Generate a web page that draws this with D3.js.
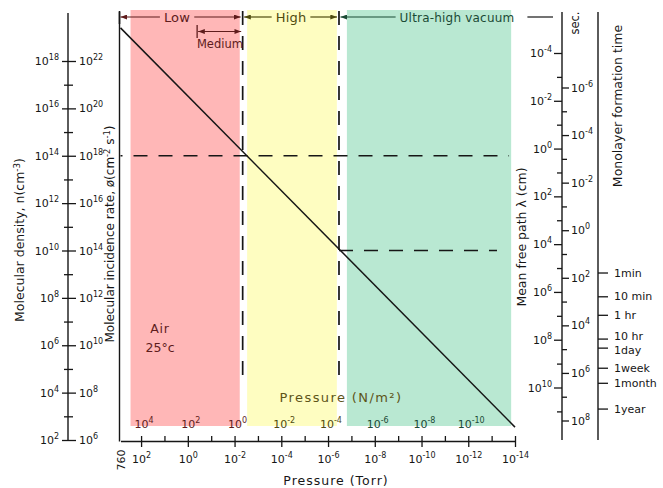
<!DOCTYPE html>
<html>
<head>
<meta charset="utf-8">
<script src="https://cdn.jsdelivr.net/npm/d3@7"></script>
<style>
html,body{margin:0;padding:0;background:#fff;}
svg{display:block;}
</style>
</head>
<body>
<svg id="chart" width="663" height="488"></svg>
<script>
// ---------------- data ----------------
const torrStart = 760;
const torrMajor = [1e2,1e0,1e-2,1e-4,1e-6,1e-8,1e-10,1e-12,1e-14];
const torrMajorExp = ["2","0","-2","-4","-6","-8","-10","-12","-14"];
const torrMinor = [1e1,1e-1,1e-3,1e-5,1e-7,1e-9,1e-11,1e-13];
const paTicks = [1e4,1e2,1e0,1e-2,1e-4,1e-6,1e-8,1e-10];
const paExp = ["4","2","0","-2","-4","-6","-8","-10"];
const torrPerPa = 0.0075;
const densityMajor = [1e2,1e4,1e6,1e8,1e10,1e12,1e14,1e16,1e18];
const densityExp = ["2","4","6","8","10","12","14","16","18"];
const densityMinor = [1e3,1e5,1e7,1e9,1e11,1e13,1e15,1e17];
const incidenceMajor = [1e6,1e8,1e10,1e12,1e14,1e16,1e18,1e20,1e22];
const incidenceExp = ["6","8","10","12","14","16","18","20","22"];
const lambdaMajor = [1e-4,1e-2,1e0,1e2,1e4,1e6,1e8,1e10];
const lambdaExp = ["-4","-2","0","2","4","6","8","10"];
const lambdaMinor = [1e-3,1e-1,1e1,1e3,1e5,1e7,1e9,1e11];
const timeMajor = [1e-6,1e-4,1e-2,1e0,1e2,1e4,1e6,1e8];
const timeExp = ["-6","-4","-2","0","2","4","6","8"];
const timeMinor = [1e-5,1e-3,1e-1,1e1,1e3,1e5,1e7];
const monoLabels = ["1min","10 min","1 hr","10 hr","1day","1week","1month","1year"];
const monoSeconds = [60,600,3600,36000,86400,604800,2.6e6,3.15e7];
const lineTorr = [760,1e-14];
const lineDensity = [2.5e19,3.5e2];
const regionNames = ["Low","High","Ultra-high vacuum"];
const regionFromTorr = [283,2.9e-3,1.56e-7];
const regionToTorr = [6.0e-3,4.2e-7,1.46e-14];
const boundaryTorr = [4.5e-3,3.4e-7];
const mediumTorr = [0.4,4.5e-3];
const dashDensity = [1e14,1e10];
const dashFromTorr = [760,3.4e-7];
const dashToTorr = [1.8e-14,5.9e-14];

// ---------------- style ----------------
const FONT = "DejaVu Sans";
const INK = "#161616";
const regionFill = ["#ffb7b7","#fefdc1","#b9e8d2"];
const regionInk = ["#5e1c1c","#4f4b10","#1b4a35"];

const svg = d3.select("#chart").attr("font-family", FONT);

// ---------------- scales ----------------
const x = d3.scaleLog().domain([torrStart,1e-14]).range([120.5,515]);
const yN = d3.scaleLog().domain([1e2,1e18]).range([440,61]);
const yPhi = d3.scaleLog().domain([1e6,1e22]).range([440,61]);
const yL = d3.scaleLog().domain([1e-4,1e10]).range([53,387.5]);
const yT = d3.scaleLog().domain([1e-6,1e8]).range([87.5,420.5]);

const plotTop = 10, plotBottom = 426;

// ---------------- regions ----------------
svg.append("g").selectAll("rect").data(regionNames).join("rect")
  .attr("x",(d,i)=>x(regionFromTorr[i]))
  .attr("width",(d,i)=>x(regionToTorr[i])-x(regionFromTorr[i]))
  .attr("y",plotTop).attr("height",plotBottom-plotTop)
  .attr("fill",(d,i)=>regionFill[i]);

// ---------------- helpers ----------------
function expText(sel, exps, supSize){
  sel.each(function(d,i){
    const t = d3.select(this); t.text(null);
    t.append("tspan").text("10");
    t.append("tspan").attr("font-size",supSize).attr("dy",-5).text(exps[i]);
  });
}
function styleAxis(g, size){
  g.attr("font-family",FONT).attr("font-size",size).attr("color",INK);
  g.selectAll("line,path").attr("stroke-width",1.3);
}
function rotTitle(cx, cy, parts, size, ls){
  const t = svg.append("text")
    .attr("transform",`translate(${cx},${cy}) rotate(-90)`)
    .attr("text-anchor","middle").attr("font-size",size).attr("fill",INK)
    .attr("letter-spacing",ls||0);
  let shifted = false;
  parts.forEach(p=>{
    const sp = t.append("tspan").text(p[0]);
    if(p[1]){ sp.attr("font-size",size*0.7).attr("dy",shifted? 0 : -4); shifted = true; }
    else if(shifted){ sp.attr("dy",4); shifted = false; }
  });
  return t;
}

// ---------------- frame line ----------------
svg.append("line").attr("x1",119.5).attr("x2",119.5).attr("y1",12).attr("y2",441.5)
  .attr("stroke",INK).attr("stroke-width",1.4);

// ---------------- dashed lines ----------------
svg.append("g").selectAll("line").data(dashDensity).join("line")
  .attr("x1",(d,i)=>x(dashFromTorr[i])).attr("x2",(d,i)=>x(dashToTorr[i]))
  .attr("y1",d=>yN(d)).attr("y2",d=>yN(d))
  .attr("stroke",INK).attr("stroke-width",1.6)
  .attr("stroke-dasharray","14,11").attr("stroke-dashoffset",(d,i)=>i===0?12:0);

svg.append("g").selectAll("line").data(boundaryTorr).join("line")
  .attr("x1",d=>x(d)).attr("x2",d=>x(d))
  .attr("y1",11).attr("y2",383)
  .attr("stroke",INK).attr("stroke-width",1.7)
  .attr("stroke-dasharray","14,11");

// ---------------- main line ----------------
svg.append("path")
  .datum(lineTorr.map((p,i)=>[p,lineDensity[i]]))
  .attr("d",d3.line().x(d=>x(d[0])).y(d=>yN(d[1])))
  .attr("fill","none").attr("stroke",INK).attr("stroke-width",1.5);

// ---------------- bottom Torr axis ----------------
const gX = svg.append("g").attr("transform","translate(0,441)");
gX.call(d3.axisBottom(x).tickValues(torrMajor).tickSizeInner(6).tickSizeOuter(0));
styleAxis(gX, 11);
gX.selectAll(".tick line").attr("y1",-5);
gX.selectAll(".tick text").attr("y",22).attr("dy",null).call(expText, torrMajorExp, 8);
const gXm = svg.append("g").attr("transform","translate(0,441)");
gXm.call(d3.axisBottom(x).tickValues(torrMinor).tickSize(-5).tickFormat(""));
gXm.select(".domain").remove();
styleAxis(gXm, 11);

svg.append("text").attr("transform",`translate(125,460) rotate(-90)`)
  .attr("text-anchor","middle").attr("font-size",11).attr("fill",INK).text("760");

svg.append("text").attr("x",336).attr("y",485).attr("text-anchor","middle")
  .attr("font-size",12.5).attr("letter-spacing",1).attr("fill",INK).text("Pressure (Torr)");

// ---------------- N/m² labels ----------------
svg.append("g").selectAll("text").data(paTicks).join("text")
  .attr("x",d=>x(d*torrPerPa)).attr("y",428).attr("text-anchor","middle")
  .attr("font-size",11)
  .attr("fill",d=>{const t=d*torrPerPa; return t>boundaryTorr[0]?regionInk[0]:(t>boundaryTorr[1]?regionInk[1]:regionInk[2]);})
  .call(expText, paExp, 8);

svg.append("text").attr("x",341).attr("y",402).attr("text-anchor","middle")
  .attr("font-size",13).attr("letter-spacing",1.4)
  .attr("fill","#5d5418").text("Pressure (N/m²)");

// ---------------- Air label ----------------
svg.append("text").attr("x",160).attr("y",333).attr("text-anchor","middle")
  .attr("font-size",12.5).attr("fill",regionInk[0]).attr("letter-spacing",0.8).text("Air");
svg.append("text").attr("x",160).attr("y",352).attr("text-anchor","middle")
  .attr("font-size",12.5).attr("fill",regionInk[0]).text("25°c");

// ---------------- left axes ----------------
const AX1 = 68;
svg.append("line").attr("x1",AX1).attr("x2",AX1).attr("y1",13).attr("y2",440.5)
  .attr("stroke",INK).attr("stroke-width",1.4);
const gN = svg.append("g").attr("transform",`translate(${AX1},0)`);
gN.call(d3.axisLeft(yN).tickValues(densityMajor).tickSizeInner(6).tickSizeOuter(0).tickPadding(3));
gN.select(".domain").remove();
styleAxis(gN, 11);
gN.selectAll(".tick line").attr("x1",8);
gN.selectAll(".tick text").call(expText, densityExp, 8);
const gNm = svg.append("g").attr("transform",`translate(${AX1},0)`);
gNm.call(d3.axisLeft(yN).tickValues(densityMinor).tickSize(4).tickFormat(""));
gNm.select(".domain").remove();
styleAxis(gNm, 11);
gNm.selectAll(".tick line").attr("x1",5);
const gP = svg.append("g").attr("transform",`translate(${AX1},0)`);
gP.call(d3.axisRight(yPhi).tickValues(incidenceMajor).tickSize(0).tickPadding(11));
gP.select(".domain").remove();
gP.selectAll(".tick line").remove();
styleAxis(gP, 11);
gP.selectAll(".tick text").call(expText, incidenceExp, 8);

rotTitle(24, 240, [["Molecular density,  n(cm"],["-3",true],[")"]], 12.5);
rotTitle(114, 234, [["Molecular incidence rate, ø(cm"],["-2",true],[" s"],["-1",true],[")"]], 12);

// ---------------- right axes ----------------
const AX2 = 562, AX3 = 598;
svg.append("line").attr("x1",AX2).attr("x2",AX2).attr("y1",12).attr("y2",440)
  .attr("stroke",INK).attr("stroke-width",1.4);
svg.append("line").attr("x1",AX3).attr("x2",AX3).attr("y1",12).attr("y2",440)
  .attr("stroke",INK).attr("stroke-width",1.4);

const gLam = svg.append("g").attr("transform",`translate(${AX2},0)`);
gLam.call(d3.axisLeft(yL).tickValues(lambdaMajor).tickSize(8).tickPadding(2));
gLam.select(".domain").remove();
styleAxis(gLam, 11);
gLam.selectAll(".tick text").call(expText, lambdaExp, 8);
const gLamm = svg.append("g").attr("transform",`translate(${AX2},0)`);
gLamm.call(d3.axisLeft(yL).tickValues(lambdaMinor).tickSize(5).tickFormat(""));
gLamm.select(".domain").remove();
styleAxis(gLamm, 11);

const gT = svg.append("g").attr("transform",`translate(${AX2},0)`);
gT.call(d3.axisRight(yT).tickValues(timeMajor).tickSize(7).tickPadding(2));
gT.select(".domain").remove();
styleAxis(gT, 11);
gT.selectAll(".tick text").call(expText, timeExp, 8);
const gTm = svg.append("g").attr("transform",`translate(${AX2},0)`);
gTm.call(d3.axisRight(yT).tickValues(timeMinor).tickSize(5).tickFormat(""));
gTm.select(".domain").remove();
styleAxis(gTm, 11);

const gM = svg.append("g").attr("transform",`translate(${AX3},0)`);
gM.call(d3.axisRight(yT).tickValues(monoSeconds).tickSize(10).tickPadding(6)
  .tickFormat((d,i)=>monoLabels[i]));
gM.select(".domain").remove();
styleAxis(gM, 11);
gM.selectAll(".tick text").attr("dy",(d,i)=> i===3 ? "0.1em" : (i===4 ? "0.55em" : "0.32em"));

rotTitle(526, 237, [["Mean free path  λ (cm)"]], 12.5);
rotTitle(622, 106, [["Monolayer formation time"]], 12.5);
rotTitle(579, 23, [["sec."]], 11.5);

// ---------------- top range arrows ----------------
const defs = svg.append("defs");
regionInk.forEach((c,i)=>{
  defs.append("marker").attr("id","ah"+i).attr("viewBox","0 0 8 6")
    .attr("refX",8).attr("refY",3).attr("markerWidth",7).attr("markerHeight",5)
    .attr("markerUnits","userSpaceOnUse").attr("orient","auto-start-reverse")
    .append("path").attr("d","M0,0L8,3L0,6Z").attr("fill",c);
});

const arrowY = 17;
const arrowFrom = [torrStart, boundaryTorr[0], boundaryTorr[1]];
const arrowTo = [boundaryTorr[0], boundaryTorr[1], null];
const ultraEndX = 553;
regionNames.forEach((name,i)=>{
  const x0 = x(arrowFrom[i]) + (i===0?0:1.5);
  const x1 = arrowTo[i]===null ? null : x(arrowTo[i]) - 2;
  let cx = i===0 ? 177 : (i===1 ? 291 : 457);
  const t = svg.append("text").attr("x",cx).attr("y",arrowY+5).attr("text-anchor","middle")
    .attr("font-size", i===2?12:13).attr("fill",regionInk[i]).attr("letter-spacing",0.2).text(name);
  const bb = t.node().getBBox();
  const g = svg.append("g").attr("stroke",regionInk[i]).attr("stroke-width",1.2);
  g.append("line").attr("x1",x0).attr("x2",bb.x-4).attr("y1",arrowY).attr("y2",arrowY)
    .attr("marker-start","url(#ah"+i+")");
  if(x1!==null){
    g.append("line").attr("x1",bb.x+bb.width+4).attr("x2",x1).attr("y1",arrowY).attr("y2",arrowY)
      .attr("marker-end","url(#ah"+i+")");
  } else {
    g.append("line").attr("x1",bb.x+bb.width+13).attr("x2",ultraEndX).attr("y1",arrowY).attr("y2",arrowY)
      .attr("stroke",INK);
  }
});
// end bar at left
svg.append("line").attr("x1",119.5).attr("x2",119.5).attr("y1",11).attr("y2",24)
  .attr("stroke",INK).attr("stroke-width",1.6);

// Medium
const medY = 31.5;
svg.append("line").attr("x1",x(mediumTorr[0])).attr("x2",x(mediumTorr[0]))
  .attr("y1",25).attr("y2",38).attr("stroke",regionInk[0]).attr("stroke-width",1.3);
svg.append("line").attr("x1",x(mediumTorr[0])+1).attr("x2",x(mediumTorr[1])-1.5)
  .attr("y1",medY).attr("y2",medY).attr("stroke",regionInk[0]).attr("stroke-width",1.2)
  .attr("marker-start","url(#ah0)").attr("marker-end","url(#ah0)");
svg.append("text").attr("x",(x(mediumTorr[0])+x(mediumTorr[1]))/2).attr("y",47.5)
  .attr("text-anchor","middle").attr("font-size",11.5).attr("fill",regionInk[0]).text("Medium");
</script>
</body>
</html>
